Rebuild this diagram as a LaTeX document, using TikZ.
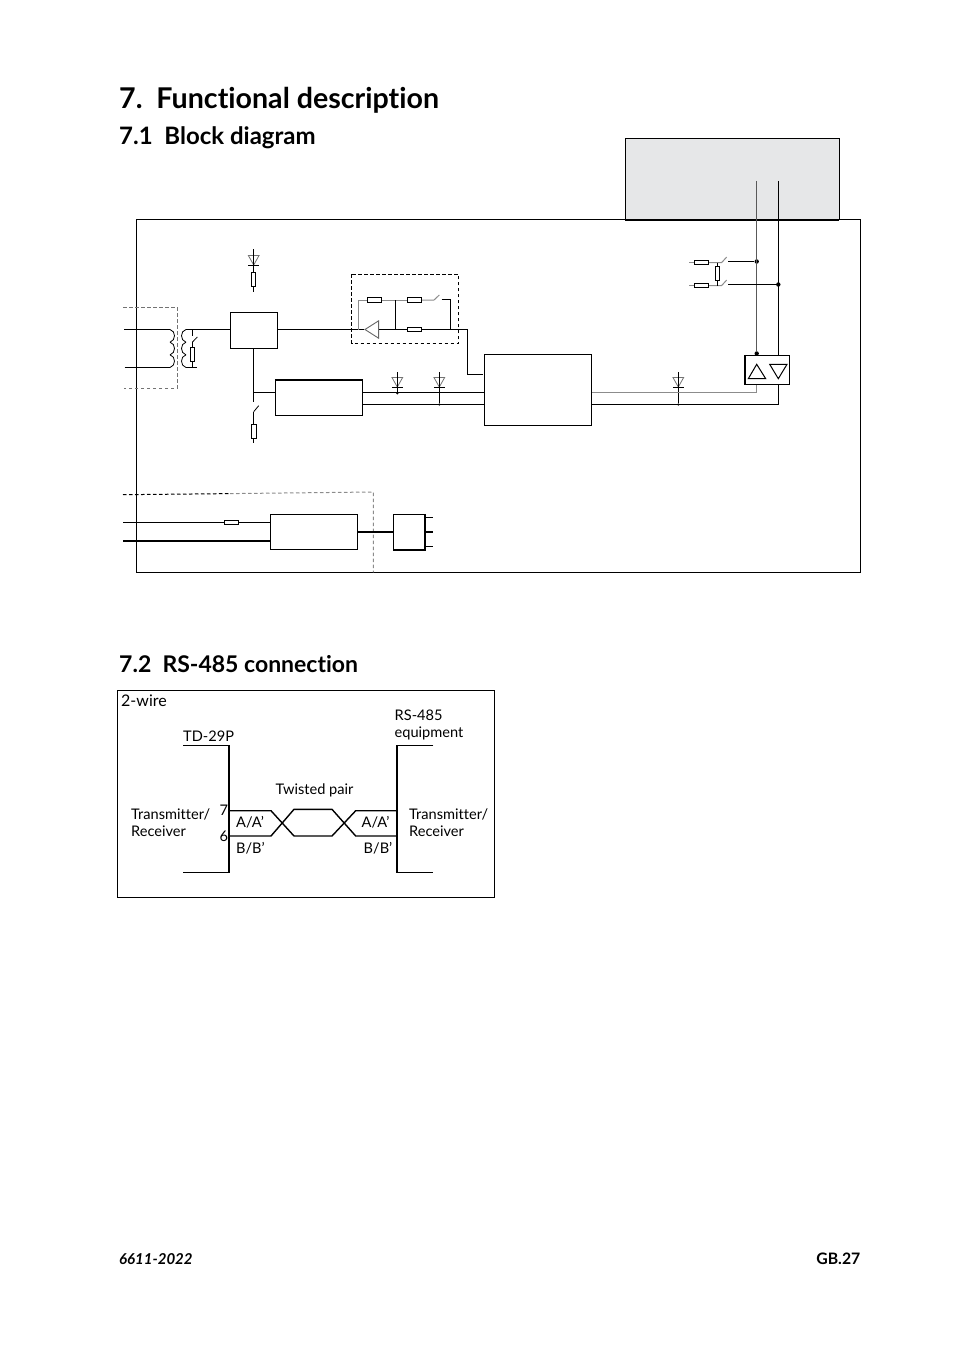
\documentclass[tikz,border=0pt]{standalone}
\usepackage{fontspec}
\setmainfont[Ligatures=NoCommon]{Lato}
\usetikzlibrary{shapes.geometric}
\definecolor{coverfill}{HTML}{E6E7E8}
\tikzset{
	wire/.style={line width=1pt},
	greywire/.style={line width=1pt,color=black!45},
	fatwire/.style={line width=2.2pt},
	blockbox/.style={draw,line width=1pt,rectangle,inner sep=0pt},
	resh/.style={draw,line width=1pt,rectangle,fill=white,inner sep=0pt,minimum width=14.4pt,minimum height=4.6pt},
	resv/.style={draw,line width=1pt,rectangle,fill=white,inner sep=0pt,minimum width=4.6pt,minimum height=14.4pt},
	dashwire/.style={line width=1pt,dash pattern=on 3.5pt off 2.5pt},
	jdot/.style={circle,fill=black,inner sep=0pt,minimum size=4.4pt},
	sdot/.style={circle,fill=black,inner sep=0pt,minimum size=2.4pt},
	txt/.style={anchor=base west,inner sep=0pt,font=\fontsize{14.6}{16}\selectfont},
	heading/.style={anchor=base west,inner sep=0pt,font=\fontsize{24}{26}\selectfont\bfseries},
	diodedn/.pic={
		\draw[line width=0.8pt,color=black!55] (-5.4,-9.6) -- (5.4,-9.6) -- (0,0) -- cycle;
		\draw[wire] (-5.4,0) -- (5.4,0);
	},
}
\begin{document}
\begin{tikzpicture}[x=1pt,y=-1pt]
	\useasboundingbox (0,0) rectangle (954,1351);
	\node[heading,font=\fontsize{28.6}{30}\selectfont\bfseries] at (119,108.5) (title) {7.\ \ Functional description};
	\node[heading] at (119,144.5) (sec71) {7.1\ \ Block diagram};
	\node[heading,font=\fontsize{23}{26}\selectfont\bfseries] at (119,672) (sec72) {7.2\ \ RS-485 connection};
	\node[txt,font=\fontsize{15}{16}\selectfont\bfseries\itshape] at (119,1264) (docnr) {6611-2022};
	\node[txt,font=\fontsize{15.8}{16}\selectfont\bfseries,anchor=base east] at (860.5,1264) (pagenr) {GB.27};

	% housing and terminal cover
	\draw[wire] (136.7,219.5) rectangle (860.3,572.5);
	\draw[wire,fill=coverfill] (625.3,138.5) rectangle (839.3,219.6);
	\draw[line width=1.8pt] (625.3,219.8) -- (839.3,219.8);

	% line input
	\draw[dashwire,color=black!55] (123,307.7) -- (177.3,307.7) -- (177.3,388.3) -- (124,388.3);
	\coordinate (pria) at (170,329.5);
	\coordinate (prib) at (170,367.5);
	\coordinate (inpa) at (124,329.5);
	\coordinate (inpb) at (124.5,367.5);
	\draw[wire] (inpa) -- (pria);
	\draw[wire] (inpb) -- (prib);
	\foreach \i in {0,1,2}{
		\draw[line width=0.8pt] (170,329.5+12.67*\i) .. controls (176,331+12.67*\i) and (176,340.5+12.67*\i) .. (170,342.2+12.67*\i);
		\draw[line width=0.8pt] (186,329.5+12.67*\i) .. controls (180,331+12.67*\i) and (180,340.5+12.67*\i) .. (186,342.2+12.67*\i);
	}
	\node[blockbox,minimum width=47pt,minimum height=36pt] at (253.8,330.3) (hybrid) {};
	\coordinate (seca) at (186,329.5);
	\coordinate (secb) at (186,367.5);
	\coordinate (secc) at (196.7,367.5);
	\draw[wire] (seca) -- (seca -| hybrid.west);
	\draw[wire] (secb) -- (secc);
	\node[resv] at (192.5,354.3) (rterm) {};
	\coordinate (termtop) at (192.5,329.5);
	\coordinate (termsw) at (192.5,336);
	\coordinate (termbl) at (192.5,342);
	\coordinate (termbt) at (197.3,337);
	\coordinate (termbot) at (192.5,367.5);
	\draw[wire] (termtop) -- (termsw);
	\draw[line width=0.8pt] (termbl) -- (termbt);
	\draw[wire] (termbl) -- (rterm);
	\draw[wire] (rterm) -- (termbot);

	% upper diode and resistor
	\pic at (253.7,265) {diodedn};
	\node[resv] at (253.5,279.3) (rup) {};
	\coordinate (rupt) at (253.5,249.3);
	\coordinate (rupb) at (253.5,291.7);
	\draw[wire] (rupt) -- (rup);
	\draw[wire] (rup) -- (rupb);

	% receive filter
	\draw[dashwire] (351.7,274.3) rectangle (458.7,343.3);
	\node[draw,line width=0.9pt,color=black!60,isosceles triangle,shape border rotate=180,isosceles triangle apex angle=65,inner sep=0pt,minimum height=13.6pt,minimum width=17.3pt] at (373.8,329.5) (ampl) {};
	\node[resh] at (374.5,300) (rfa) {};
	\node[resh] at (414.5,300) (rfb) {};
	\node[resh] at (414.5,329.5) (rfc) {};
	\coordinate (fleft) at (358.3,329.5);
	\coordinate (ftopl) at (358.3,300);
	\coordinate (fmid) at (395.7,300);
	\coordinate (fmidb) at (395.7,329.5);
	\coordinate (fsw) at (434,300);
	\coordinate (fbl) at (439.3,295);
	\coordinate (fsr) at (441.7,299.5);
	\coordinate (fcor) at (450.7,299.5);
	\coordinate (fcorb) at (450.7,329.5);
	\coordinate (fout) at (467.7,329.5);
	\draw[wire] (hybrid.east |- fout) -- (ampl.west);
	\draw[wire] (ampl.east |- fout) -- (rfc);
	\draw[wire] (rfc) -- (fout);
	\draw[greywire] (fleft) -- (ftopl) -- (rfa);
	\draw[greywire] (rfa) -- (rfb);
	\draw[greywire] (rfb) -- (fsw) -- (fbl);
	\draw[wire] (fmid) -- (fmidb);
	\draw[wire] (fsr) -- (fcor) -- (fcorb);

	% processor and line driver
	\node[blockbox,minimum width=107.4pt,minimum height=71pt] at (538,389.8) (ctrl) {};
	\node[blockbox,minimum width=87.4pt,minimum height=34.6pt] at (319,398) (codec) {};
	\draw[line width=1.8pt] (codec.north west) -- (codec.north east);
	\coordinate (ctrlin) at (482.7,374.5);
	\draw[wire] (fout) -- (fout |- ctrlin) -- (ctrlin);
	\coordinate (swj) at (253.7,392.5);
	\coordinate (swa) at (253.7,402);
	\coordinate (swb) at (253.7,411.7);
	\coordinate (swc) at (258.7,405.7);
	\coordinate (swd) at (253.7,442.7);
	\node[resv] at (253.7,431.2) (rsw) {};
	\draw[wire] (hybrid.south -| swj) -- (swa);
	\draw[wire] (swj) -- (swj -| codec.west);
	\draw[line width=0.8pt] (swb) -- (swc);
	\draw[wire] (swb) -- (rsw);
	\draw[wire] (rsw) -- (swd);
	\draw[wire] (codec.east |- swj) -- (ctrl.west |- swj);
	\draw[wire] (codec.east |- 0,404.5) -- (ctrl.west |- 0,404.5);
	\pic at (397.3,387) {diodedn};
	\pic at (439.3,387) {diodedn};
	\pic at (678.3,387) {diodedn};
	\node[sdot] at (397.3,393.3) (dotda) {};
	\node[sdot] at (439.3,404.5) (dotdb) {};
	\node[sdot] at (678.3,404.5) (dotdc) {};
	\coordinate (stuba) at (397.3,372.3);
	\coordinate (stubb) at (439.3,372.3);
	\coordinate (stubc) at (678.3,372.3);
	\draw[line width=0.9pt] (stuba) -- (dotda);
	\draw[line width=0.9pt] (stubb) -- (dotdb);
	\draw[line width=0.9pt] (stubc) -- (dotdc);
	\node[blockbox,minimum width=44pt,minimum height=29.4pt] at (767.7,370) (drv) {};
	\draw[line width=1.8pt] (drv.north west) -- (drv.south west);
	\draw[wire] (748.3,378.7) -- (765.7,378.7) -- (756.7,364.3) -- cycle;
	\draw[wire] (769.7,364.3) -- (787,364.3) -- (778.3,378.7) -- cycle;
	\coordinate (linea) at (756.7,181);
	\coordinate (lineb) at (778.3,181);
	\node[jdot] at (756.7,353.5) (dotdrv) {};
	\node[jdot] at (756.7,261.5) (dota) {};
	\node[jdot] at (778.3,284.5) (dotb) {};
	\draw[wire,color=black!65] (linea) -- (dotdrv);
	\draw[wire] (lineb) -- (drv.north -| lineb);
	\coordinate (cora) at (756.7,392.5);
	\coordinate (corb) at (778.3,404.5);
	\draw[greywire] (drv.south -| cora) -- (cora) -- (cora -| ctrl.east);
	\draw[wire] (drv.south -| corb) -- (corb) -- (corb -| ctrl.east);

	% bias network
	\node[resh] at (701.5,262.5) (rba) {};
	\node[resh] at (701.5,285.5) (rbb) {};
	\node[resv] at (717.3,273.3) (rbc) {};
	\coordinate (bla) at (689,262.5);
	\coordinate (blb) at (689,285.5);
	\coordinate (bja) at (721.7,262.5);
	\coordinate (bjb) at (721.7,285.5);
	\coordinate (bta) at (726.7,257);
	\coordinate (btb) at (726.7,280);
	\coordinate (bva) at (717.3,262.5);
	\coordinate (bvb) at (717.3,285.5);
	\draw[greywire] (bla) -- (rba);
	\draw[greywire] (blb) -- (rbb);
	\draw[greywire] (rba) -- (bja) -- (bta);
	\draw[greywire] (rbb) -- (bjb) -- (btb);
	\draw[wire] (bva) -- (rbc);
	\draw[wire] (rbc) -- (bvb);
	\coordinate (bra) at (728.3,261.5);
	\coordinate (brb) at (728.3,284.5);
	\draw[wire] (bra) -- (dota);
	\draw[wire] (brb) -- (brb -| dotb);

	% supply
	\draw[dashwire,color=black] (123,494.7) -- (230,493.6);
	\draw[dashwire,color=black!45] (230,493.6) -- (373.3,492) -- (373.3,572.3);
	\node[blockbox,minimum width=87.4pt,minimum height=35pt] at (314,531.8) (psu) {};
	\node[blockbox,minimum width=30.6pt,minimum height=35pt] at (409,531.8) (conv) {};
	\draw[line width=1.8pt] (conv.north east) -- (conv.south east) -- (conv.south west);
	\node[resh] at (231.5,522.5) (rfuse) {};
	\coordinate (supa) at (123,522.5);
	\coordinate (supb) at (123,541);
	\draw[wire] (supa) -- (rfuse);
	\draw[wire] (rfuse) -- (rfuse -| psu.west);
	\draw[fatwire] (supb) -- (supb -| psu.west);
	\draw[fatwire] (psu.east) -- (conv.west);
	\coordinate (outa) at (432.7,517.5);
	\coordinate (outb) at (432.7,531.8);
	\coordinate (outc) at (432.7,546.5);
	\draw[wire] (conv.east |- outa) -- (outa);
	\draw[fatwire] (conv.east |- outb) -- (outb);
	\draw[wire] (conv.east |- outc) -- (outc);

	% RS-485 connection
	\draw[wire] (117.5,690.5) rectangle (494.5,897.5);
	\coordinate (tda) at (183,745.7);
	\coordinate (tdb) at (229,745.7);
	\coordinate (tdc) at (229,872.7);
	\coordinate (tdd) at (183,872.7);
	\coordinate (rsa) at (433.3,745.7);
	\coordinate (rsb) at (397,745.7);
	\coordinate (rsc) at (397,872.7);
	\coordinate (rsd) at (433.3,872.7);
	\draw[line width=1.4pt] (tda) -- (tdb) -- (tdc) -- (tdd);
	\draw[line width=1.4pt] (rsa) -- (rsb) -- (rsc) -- (rsd);
	\draw[line width=1.4pt] (tdb |- 0,810.7) -- (271,810.7) -- (294,836) -- (332,836) -- (355.7,810.7) -- (rsb |- 0,810.7);
	\draw[line width=1.4pt] (tdb |- 0,836) -- (271,836) -- (294,809.3) -- (332,809.3) -- (355.7,836) -- (rsb |- 0,836);
	\node[txt,font=\fontsize{16}{18}\selectfont] at (121,706) (wires) {2-wire};
	\node[txt] at (183,741) (tdname) {TD-29P};
	\node[txt] at (394.5,720) (rsname) {RS-485};
	\node[txt] at (394.5,737) (rsequip) {equipment};
	\node[txt] at (275.5,794) (twist) {Twisted pair};
	\node[txt] at (131,819) (tla) {Transmitter/};
	\node[txt] at (131,836) (tlb) {Receiver};
	\node[txt] at (409,819) (tra) {Transmitter/};
	\node[txt] at (409,836) (trb) {Receiver};
	\node[txt] at (219.5,815) (pinse) {7};
	\node[txt] at (219.5,841) (pinsi) {6};
	\node[txt] at (236,827) (laa) {A/A'};
	\node[txt] at (236,853) (lab) {B/B'};
	\node[txt] at (361.5,827) (raa) {A/A'};
	\node[txt] at (363.5,853) (rab) {B/B'};
\end{tikzpicture}
\end{document}
